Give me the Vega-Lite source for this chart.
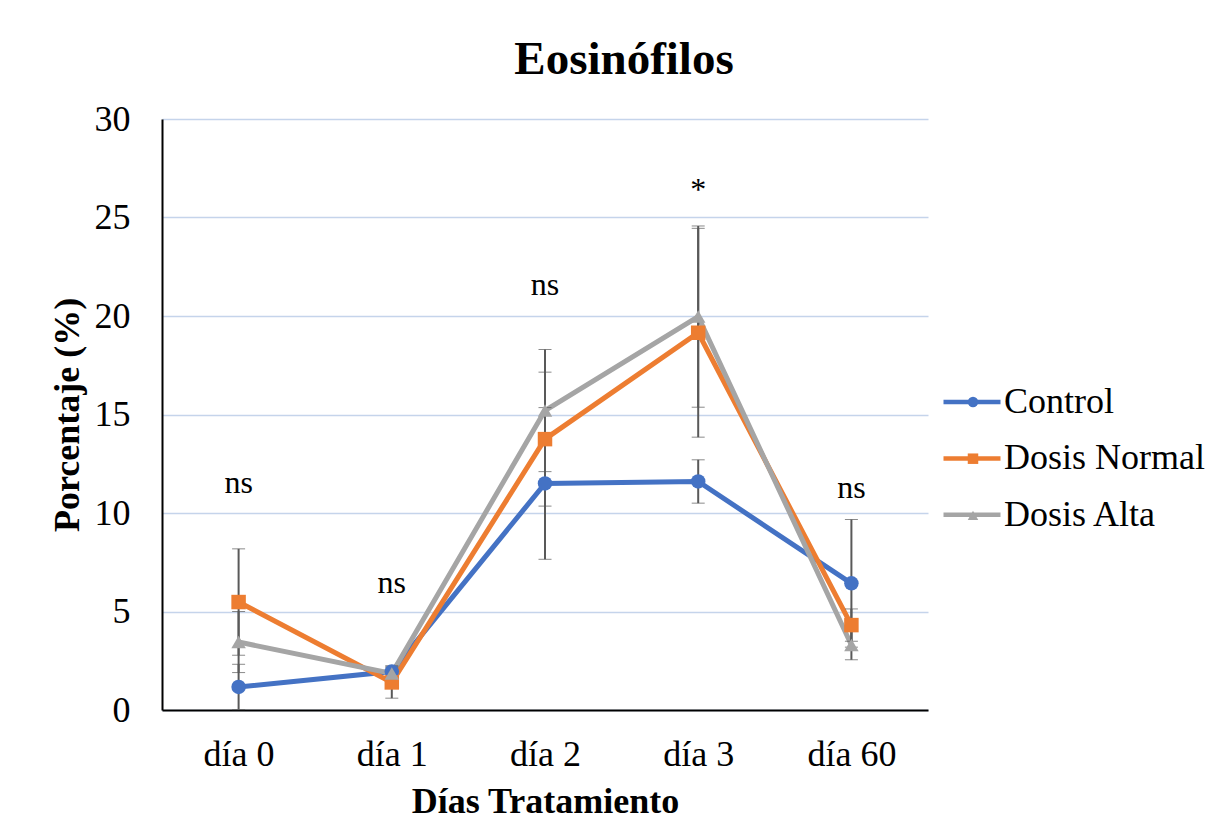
{
  "$schema": "https://vega.github.io/schema/vega-lite/v6.json",
  "autosize": "none",
  "width": 766,
  "height": 591,
  "padding": {"left": 162, "top": 119, "right": 299, "bottom": 108},
  "background": "white",
  "config": {"font": "Liberation Serif", "view": {"stroke": null}},
  "title": {"text": "Eosinófilos", "font": "Liberation Serif", "fontSize": 47, "fontWeight": "bold", "color": "black", "anchor": "middle", "dx": 79, "offset": -30, "baseline": "bottom"},
  "datasets": {
    "stats": [
      {"series": "Control", "day": "día 0", "value": 1.17, "err": 1.15},
      {"series": "Control", "day": "día 1", "value": 1.95, "err": 0.3},
      {"series": "Control", "day": "día 2", "value": 11.5, "err": 3.85},
      {"series": "Control", "day": "día 3", "value": 11.6, "err": 1.1},
      {"series": "Control", "day": "día 60", "value": 6.43, "err": 3.24},
      {"series": "Dosis Normal", "day": "día 0", "value": 5.48, "err": 2.7},
      {"series": "Dosis Normal", "day": "día 1", "value": 1.4, "err": 0.8},
      {"series": "Dosis Normal", "day": "día 2", "value": 13.75, "err": 3.4},
      {"series": "Dosis Normal", "day": "día 3", "value": 19.15, "err": 5.3},
      {"series": "Dosis Normal", "day": "día 60", "value": 4.31, "err": 0.82},
      {"series": "Dosis Alta", "day": "día 0", "value": 3.45, "err": 1.55},
      {"series": "Dosis Alta", "day": "día 1", "value": 1.85, "err": 0.3},
      {"series": "Dosis Alta", "day": "día 2", "value": 15.2, "err": 3.1},
      {"series": "Dosis Alta", "day": "día 3", "value": 19.97, "err": 4.6},
      {"series": "Dosis Alta", "day": "día 60", "value": 3.3, "err": 0.75}
    ],
    "ann": [
      {"day": "día 0", "value": 11.5, "label": "ns"},
      {"day": "día 1", "value": 6.45, "label": "ns"},
      {"day": "día 2", "value": 21.55, "label": "ns"},
      {"day": "día 3", "value": 26.4, "label": "*"},
      {"day": "día 60", "value": 11.25, "label": "ns"}
    ]
  },
  "encoding": {
    "x": {
      "field": "day", "type": "ordinal",
      "scale": {"type": "point", "padding": 0.5, "domain": ["día 0", "día 1", "día 2", "día 3", "día 60"]},
      "axis": {"title": "Días Tratamiento", "labelAngle": 0, "grid": false, "ticks": false, "tickSize": 0, "domainColor": "black", "domainWidth": 2, "labelFont": "Liberation Serif", "labelFontSize": 36, "labelColor": "black", "labelPadding": 27, "titleFont": "Liberation Serif", "titleFontSize": 36, "titleFontWeight": "bold", "titleColor": "black", "titlePadding": 12}
    },
    "y": {
      "field": "value", "type": "quantitative",
      "scale": {"domain": [0, 30]},
      "axis": {"title": "Porcentaje (%)", "values": [0, 5, 10, 15, 20, 25, 30], "grid": true, "gridColor": "#C5D4EB", "gridWidth": 1.3, "ticks": false, "tickSize": 0, "domainColor": "black", "domainWidth": 2, "labelFont": "Liberation Serif", "labelFontSize": 36, "labelColor": "black", "labelPadding": 32, "titleFont": "Liberation Serif", "titleFontSize": 36, "titleFontWeight": "bold", "titleColor": "black", "titlePadding": 8}
    }
  },
  "layer": [
    {
      "data": {"name": "stats"},
      "mark": {"type": "line", "strokeWidth": 5},
      "encoding": {
        "stroke": {
          "field": "series", "type": "nominal",
          "sort": ["Control", "Dosis Normal", "Dosis Alta"],
          "scale": {"range": ["#4472C4", "#ED7D31", "#A5A5A5"]},
          "legend": {"orient": "none", "legendX": 779, "legendY": 252, "title": null, "symbolType": "stroke", "symbolSize": 3249, "symbolStrokeWidth": 4.5, "labelFont": "Liberation Serif", "labelFontSize": 36, "labelColor": "black", "labelOffset": 1, "labelLimit": 400, "rowPadding": 7.4, "padding": 0}
        }
      }
    },
    {
      "data": {"name": "stats"},
      "mark": {"type": "errorbar", "color": "#595959", "ticks": {"size": 13, "color": "#595959", "strokeWidth": 2}, "rule": {"color": "#595959", "strokeWidth": 2}},
      "encoding": {
        "yError": {"field": "err"}
      }
    },
    {
      "data": {"name": "stats"},
      "mark": {"type": "point", "filled": true, "size": 210, "opacity": 1, "strokeWidth": 0},
      "encoding": {
        "fill": {
          "field": "series", "type": "nominal",
          "scale": {"domain": ["Control", "Dosis Normal", "Dosis Alta"], "range": ["#4472C4", "#ED7D31", "#A5A5A5"]},
          "legend": {"orient": "none", "legendX": 793, "legendY": 265, "title": null, "symbolSize": 110, "symbolStrokeWidth": 0, "symbolOpacity": 1, "labelFont": "Liberation Serif", "labelFontSize": 36, "labelExpr": "''", "labelLimit": 400, "rowPadding": 20.7, "padding": 0}
        },
        "shape": {
          "field": "series", "type": "nominal",
          "scale": {"domain": ["Control", "Dosis Normal", "Dosis Alta"], "range": ["circle", "square", "triangle-up"]}
        }
      }
    },
    {
      "data": {"name": "ann"},
      "mark": {"type": "text", "font": "Liberation Serif", "fontSize": 32, "color": "black", "baseline": "middle"},
      "encoding": {
        "text": {"field": "label"}
      }
    }
  ]
}
